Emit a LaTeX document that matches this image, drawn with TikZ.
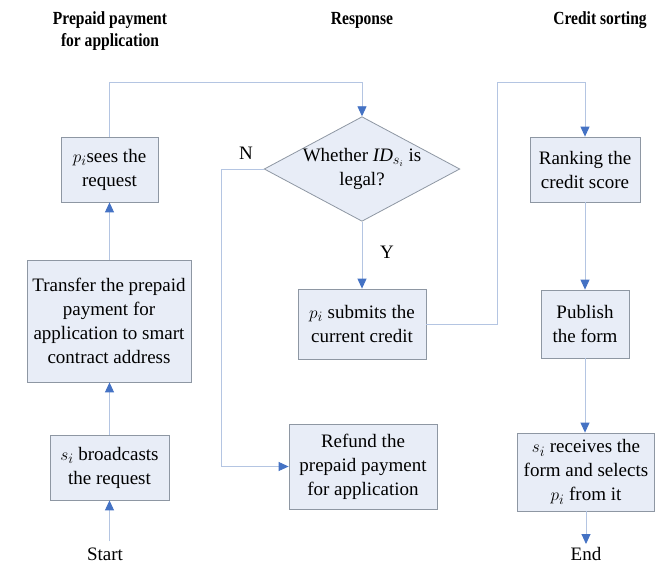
\documentclass[tikz,border=0pt]{standalone}
\usepackage{fontspec}
\setmainfont{Liberation Serif}
\usetikzlibrary{arrows.meta,shapes.geometric}
\definecolor{boxfill}{HTML}{E8EDF7}
\definecolor{boxline}{HTML}{8E97A3}
\definecolor{flowline}{HTML}{B4C5E2}
\definecolor{tipblue}{HTML}{4472C4}
\newcommand{\narrow}[1]{\scalebox{0.84}[1]{#1}}
\tikzset{
  txt/.style={font=\fontsize{19}{24}\selectfont, align=center},
  procbox/.style={txt, draw=boxline, fill=boxfill, line width=0.8pt, inner sep=1pt},
  decbox/.style={txt, diamond, draw=boxline, fill=boxfill, line width=0.8pt, inner sep=0pt, aspect=1.87},
  heading/.style={font=\fontsize{18.5}{22}\selectfont\bfseries, align=center},
  flow/.style={draw=flowline, line width=0.9pt, -{Triangle[width=9pt,length=10pt,color=tipblue]}},
}
\begin{document}
\begin{tikzpicture}[x=1pt,y=-1pt]
\useasboundingbox (0,0) rectangle (662,566);
\fill[white] (0,0) rectangle (662,566);

% column headings
\node[heading] (h1) at (110,31) {\narrow{Prepaid payment}\\\narrow{for application}};
\node[heading] (h2) at (362,20) {\narrow{Response}};
\node[heading] (h3) at (600,20) {\narrow{Credit sorting}};

% left column
\node[procbox, minimum width=97pt, minimum height=65pt] (sees) at (109.5,169.5) {$p_i$sees the\\request};
\node[procbox, minimum width=164pt, minimum height=122pt] (transfer) at (109,321) {Transfer the prepaid\\payment for\\application to smart\\contract address};
\node[procbox, minimum width=119pt, minimum height=65pt] (bcast) at (109.5,467.5) {$s_i$ broadcasts\\the request};
\node[txt, inner sep=1pt] (start) at (105,554) {Start};

% middle column
\node[decbox, minimum width=194pt, minimum height=104pt] (dec) at (362,169) {Whether $\mathit{ID}_{s_i}$ is\\legal?};
\node[procbox, minimum width=128pt, minimum height=70pt] (submit) at (362,324) {$p_i$ submits the\\current credit};
\node[procbox, minimum width=148pt, minimum height=85pt] (refund) at (363,466.5) {Refund the\\prepaid payment\\for application};
\node[txt] (nlab) at (246,153) {N};
\node[txt] (ylab) at (387,252) {Y};

% right column
\node[procbox, minimum width=110pt, minimum height=65pt] (rank) at (585,169.5) {Ranking the\\credit score};
\node[procbox, minimum width=88pt, minimum height=68pt] (publish) at (585,324) {Publish\\the form};
\node[procbox, minimum width=137pt, minimum height=78pt] (recv) at (586,472) {$s_i$ receives the\\form and selects\\$p_i$ from it};
\node[txt, inner sep=1pt] (end) at (586,554) {End};

% bend points and free ends
\coordinate (startfoot) at (109.5,541);
\coordinate (topL) at (362,82);
\coordinate (nbend) at (221,169);
\coordinate (topR) at (497,82);
\coordinate (endtip) at (586,544);

% connectors
\draw[flow] (startfoot) -- (bcast.south);
\draw[flow] (bcast.north) -- (transfer.south -| bcast.north);
\draw[flow] (transfer.north -| sees.south) -- (sees.south);
\draw[flow] (sees.north) |- (topL) -- (dec.north);
\draw[flow] (dec.south) -- (submit.north);
\draw[flow] (dec.west) -- (nbend) |- (refund.west);
\draw[flow] (submit.east) -| (topR) -| (rank.north);
\draw[flow] (rank.south) -- (publish.north);
\draw[flow] (publish.south) -- (publish.south |- recv.north);
\draw[flow] (recv.south) -- (endtip);
\end{tikzpicture}
\end{document}
